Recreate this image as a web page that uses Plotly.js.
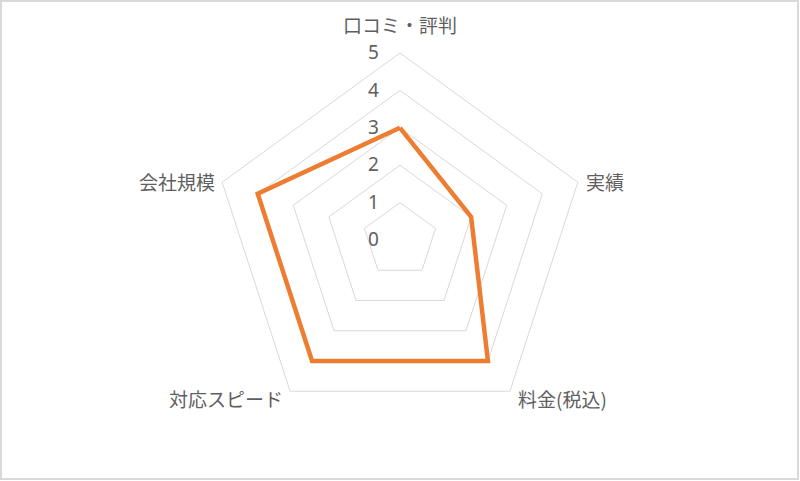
<!DOCTYPE html>
<html>
<head>
<meta charset="utf-8">
<script src="https://cdn.plot.ly/plotly-3.0.1.min.js"></script>
<style>html,body{margin:0;padding:0;background:#fff;}#chart{width:800px;height:481px;}</style>
</head>
<body>
<div id="chart"></div>
<script>
const categories = ["口コミ・評判", "実績", "料金(税込)", "対応スピード", "会社規模"];
const scores = [3, 2, 4, 4, 4];
const radialTicks = [0, 1, 2, 3, 4, 5];

const theta = categories.concat([categories[0]]);
const r = scores.concat([scores[0]]);

const FONT = '"Noto Sans CJK JP", "Noto Sans", sans-serif';
const TEXT = '#5f5f5f';
const W = 800, H = 481, R = 187, CX = 400, CY = 240;

const trace = {
  type: 'scatterpolar',
  r: r,
  theta: theta,
  mode: 'lines',
  line: {color: '#ED7D31', width: 4.5},
  hoverinfo: 'skip',
  showlegend: false
};

// category labels placed just outside each vertex of the outer polygon
const n = categories.length;
const annotations = categories.map(function (name, i) {
  const a = (i * 360 / n) * Math.PI / 180;
  const s = Math.sin(a), c = Math.cos(a);
  const vx = CX + R * s, vy = CY - R * c;
  let x, y, xanchor;
  if (Math.abs(s) < 0.1) { x = vx; y = vy - 28; xanchor = 'center'; }
  else {
    xanchor = s > 0 ? 'left' : 'right';
    x = vx + (s > 0 ? 6 : -5);
    y = vy + (c > 0 ? -1 : 7);
  }
  return {
    text: name, showarrow: false, xref: 'paper', yref: 'paper',
    x: x / W, y: 1 - y / H, xanchor: xanchor, yanchor: 'middle',
    font: {family: FONT, size: 19, color: TEXT}
  };
});

const layout = {
  width: W, height: H,
  margin: {l: 0, r: 0, t: 0, b: 0},
  paper_bgcolor: '#ffffff',
  font: {family: FONT, color: TEXT, size: 19},
  showlegend: false,
  polar: {
    domain: {
      x: [(CX - R) / W, (CX + R) / W],
      y: [(H - CY - R) / H, (H - CY + R) / H]
    },
    bgcolor: '#ffffff',
    gridshape: 'linear',
    angularaxis: {
      direction: 'clockwise',
      rotation: 90,
      showgrid: false,
      showline: true,
      linecolor: '#d9d9d9',
      linewidth: 1,
      ticks: '',
      showticklabels: false
    },
    radialaxis: {
      range: [0, 5],
      tickvals: radialTicks,
      ticktext: radialTicks.map(String),
      angle: 90,
      side: 'counterclockwise',
      tickangle: 90,
      showline: false,
      gridcolor: '#d9d9d9',
      gridwidth: 1,
      ticks: 'outside',
      ticklen: 14,
      tickcolor: 'rgba(0,0,0,0)',
      tickfont: {family: '"Noto Sans", sans-serif', size: 19, color: TEXT}
    }
  },
  annotations: annotations,
  shapes: [{
    type: 'rect', xref: 'paper', yref: 'paper',
    x0: 1 / W, x1: 1 - 2 / W, y0: 2 / H, y1: 1 - 1 / H,
    line: {color: '#d9d9d9', width: 2},
    fillcolor: 'rgba(0,0,0,0)'
  }]
};

Plotly.newPlot('chart', [trace], layout, {staticPlot: true, displayModeBar: false});
</script>
</body>
</html>
